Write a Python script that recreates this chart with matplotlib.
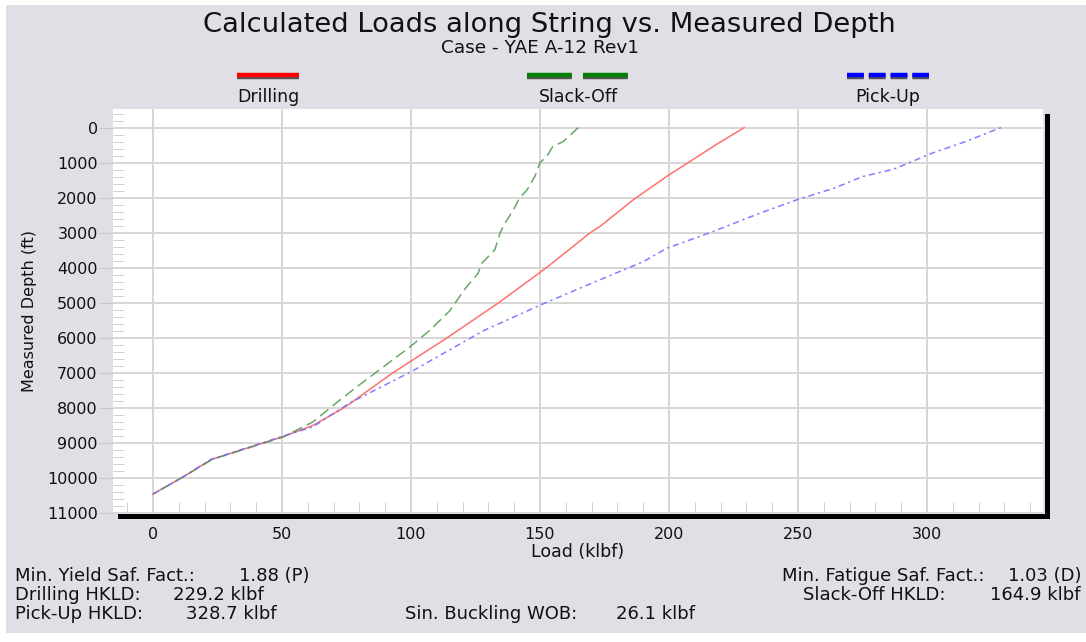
import matplotlib
matplotlib.use("Agg")
import matplotlib.pyplot as plt
from matplotlib.lines import Line2D
from matplotlib.patches import Rectangle
from matplotlib.ticker import MultipleLocator

# data (depth ft, load klbf)
drilling_depth = [0, 500, 1000, 1350, 2060, 2820, 3000, 4000, 5000, 6000, 7000, 8000, 8500, 8830, 9470, 10000, 10460]
drilling_load = [229.2, 218, 207.5, 200, 186.2, 173.3, 169.5, 152.5, 134, 114, 93, 74, 62, 50, 22.7, 11, 0]

slackoff_depth = [0, 400, 540, 830, 1000, 1400, 1780, 2020, 2350, 2780, 3020, 3490, 3870, 4160,
                  4600, 5230, 5780, 6260, 6830, 7400, 7920, 8400, 8830, 9470, 10000, 10460]
slackoff_load = [164.9, 159, 155, 152.6, 150, 148, 145, 142, 139.7, 136, 134.5, 132.5, 127.5, 126,
                 121, 115, 107.4, 99.6, 89.3, 79, 70, 62, 50.5, 23, 11, 0]

pickup_depth = [0, 400, 730, 1190, 1400, 1730, 2050, 2450, 2970, 3450, 3830, 4350, 5070, 5800,
                6970, 7870, 8540, 8830, 9470, 10000, 10460]
pickup_load = [328.7, 315, 302, 287, 275, 264, 250, 235, 217, 199, 190, 173, 150, 128,
               100, 76, 62, 49.5, 22.5, 11, 0]

series_names = ["Drilling", "Slack-Off", "Pick-Up"]

# summary block: (label, value)
summary_left = [("Min. Yield Saf. Fact.:", "1.88 (P)"),
                ("Drilling HKLD:", "229.2 klbf"),
                ("Pick-Up HKLD:", "328.7 klbf")]
summary_right = [("Min. Fatigue Saf. Fact.:", "1.03 (D)"),
                 ("Slack-Off HKLD:", "164.9 klbf")]
summary_mid = ("Sin. Buckling WOB:", "26.1 klbf")

W, H = 1086, 642
bg = "#e0dfe5"
ink = "#111111"

fig = plt.figure(figsize=(W / 100, H / 100), dpi=100, facecolor="white")

def fx(px):
    return px / W

def fy(py):
    return 1 - py / H

# grey panel
fig.add_artist(Rectangle((fx(6), fy(633)), fx(1086 - 6), (633 - 5) / H,
                         transform=fig.transFigure, facecolor=bg, edgecolor="none", zorder=0))

ax = fig.add_axes([fx(113), fy(513), fx(1043 - 113), (513 - 109) / H])
ax.set_facecolor("white")

ax.plot(drilling_load, drilling_depth, color="#ff7070", lw=1.1, zorder=3)
ax.plot(slackoff_load, slackoff_depth, color="#4a9a4a", lw=1.1, dashes=(7, 3.5), alpha=0.85, zorder=3)
ax.plot(pickup_load, pickup_depth, color="#7070ff", lw=1.1, dashes=(1.5, 2.5, 4, 2.5), alpha=0.9, zorder=3)

ax.set_xlim(-15.5, 345)
ax.set_ylim(11000, -530)
ax.xaxis.set_minor_locator(MultipleLocator(10))
ax.yaxis.set_major_locator(MultipleLocator(1000))
ax.yaxis.set_minor_locator(MultipleLocator(200))
ax.set_xticks(range(0, 301, 50))
ax.grid(True, which="major", color="#d6d6d6", lw=1.4)
ax.set_axisbelow(True)

for s in ax.spines.values():
    s.set_visible(False)

ax.tick_params(axis="y", which="major", direction="out", length=10, color="#c8c8c8",
               labelsize=11.5, pad=1, labelcolor=ink)
ax.tick_params(axis="y", which="minor", direction="in", length=8, color="#c8c8c8")
ax.tick_params(axis="x", which="major", direction="out", length=0, labelsize=11.5,
               pad=10, labelcolor=ink)
ax.tick_params(axis="x", which="minor", direction="in", length=8, color="#c8c8c8")

ax.set_xlabel("Load (klbf)", fontsize=12.5, labelpad=1, color=ink)
ax.set_ylabel("Measured Depth (ft)", fontsize=11.5, labelpad=7, color=ink)

# black shadow frame (bottom and right)
fig.add_artist(Rectangle((fx(118), fy(519)), fx(1050 - 118), 5 / H,
                         transform=fig.transFigure, facecolor="black", edgecolor="none", zorder=5))
fig.add_artist(Rectangle((fx(1045), fy(519)), fx(5), (519 - 114) / H,
                         transform=fig.transFigure, facecolor="black", edgecolor="none", zorder=5))

# titles
fig.text(fx(549), fy(25), "Calculated Loads along String vs. Measured Depth",
         ha="center", va="center", fontsize=19.7, color=ink)
fig.text(fx(540), fy(48), "Case - YAE A-12 Rev1", ha="center", va="center",
         fontsize=13.3, color=ink)

# legend: line sample above the label
legend_x = [268, 578.5, 888]
legend_half = [31, 51.5, 41]
legend_colors = ["#ff0000", "#008000", "#0000ff"]
legend_dashes = [None, (10.1, 2.5), (3.8, 1.1)]
for name, cx, hw, col, dsh in zip(series_names, legend_x, legend_half, legend_colors, legend_dashes):
    for off, c in [(1.5, "#555555"), (0, col)]:
        ln = Line2D([fx(cx - hw), fx(cx + hw)], [fy(75 + off), fy(75 + off)],
                    transform=fig.transFigure, color=c, lw=3.2, solid_capstyle="butt",
                    dash_capstyle="butt")
        if dsh is not None:
            ln.set_dashes(dsh)
        fig.add_artist(ln)
    fig.text(fx(cx), fy(97), name, ha="center", va="center", fontsize=12.5, color=ink)

# summary text below the chart
fs = 13
left_val_x = [239, 173, 186]
for i, ((lab, val), vx) in enumerate(zip(summary_left, left_val_x)):
    fig.text(fx(15), fy(576 + 19 * i), lab, ha="left", va="center", fontsize=fs, color=ink)
    fig.text(fx(vx), fy(576 + 19 * i), val, ha="left", va="center", fontsize=fs, color=ink)
right_lab_x = [984, 945]
for i, ((lab, val), lx) in enumerate(zip(summary_right, right_lab_x)):
    fig.text(fx(lx), fy(576 + 19 * i), lab, ha="right", va="center", fontsize=fs, color=ink)
    fig.text(fx(1081), fy(576 + 19 * i), val, ha="right", va="center", fontsize=fs, color=ink)
fig.text(fx(405), fy(614), summary_mid[0], ha="left", va="center", fontsize=fs, color=ink)
fig.text(fx(616), fy(614), summary_mid[1], ha="left", va="center", fontsize=fs, color=ink)

fig.savefig("out.png", dpi=100, facecolor="white")
